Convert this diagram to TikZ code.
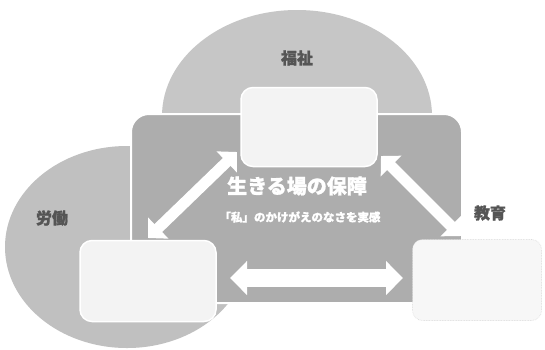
\documentclass[tikz,border=0pt]{standalone}
\usepackage{fontspec}
\newfontfamily\jp{Noto Sans CJK JP}[BoldFeatures={FakeBold=1.2}]
\usetikzlibrary{arrows.meta}
\definecolor{domegrey}{HTML}{C6C6C6}
\definecolor{leftgrey}{HTML}{C0C0C0}
\definecolor{midgrey}{HTML}{ADADAD}
\definecolor{boxfill}{HTML}{F3F3F3}
\definecolor{labelgrey}{HTML}{555555}
\tikzset{
  field/.style={fill=#1, draw=none},
  panel/.style={fill=midgrey, draw=white, line width=2pt, rounded corners=18pt},
  infobox/.style={fill=boxfill, draw=white, line width=1.5pt, rounded corners=12pt},
  areabox/.style={fill=white!97!black, draw=black!15, line width=0.6pt, densely dotted, rounded corners=10pt},
  arealabel/.style={font=\jp\bfseries\fontsize{16}{16}\selectfont, text=labelgrey, inner sep=0pt},
  biglabel/.style={font=\jp\bfseries\fontsize{20}{20}\selectfont, text=white, inner sep=0pt},
  smalllabel/.style={font=\jp\bfseries\fontsize{11.5}{11.5}\selectfont, text=white, inner sep=0pt},
  fatarrow/.style={draw=white, line width=#1, {Triangle[width=2.6*#1,length=1.3*#1]}-{Triangle[width=2.6*#1,length=1.3*#1]}, shorten <=0pt, shorten >=0pt}
}
\begin{document}
\begin{tikzpicture}[x=1pt,y=-1pt]
\useasboundingbox (0,0) rectangle (545,349);
\fill[white] (0,0) rectangle (545,349);
% top dome (welfare)
\fill[field=domegrey] (297,116) ellipse [x radius=135, y radius=106];
% left ellipse (labour)
\fill[field=leftgrey] (127,247) ellipse [x radius=122, y radius=101];
% central panel
\draw[panel] (131,114) rectangle (462,303);
% boxes
\node[infobox, minimum width=136pt, minimum height=79pt] (top) at (309,127) {};
\node[infobox, minimum width=136pt, minimum height=81pt] (left) at (148,281) {};
\node[areabox, minimum width=129pt, minimum height=81pt] (right) at (477,280) {};
% arrow end points
\coordinate (tl) at (237,152);
\coordinate (bl) at (148,238);
\coordinate (tr) at (381,156);
\coordinate (br) at (461,236);
\coordinate (hl) at (230,278);
\coordinate (hr) at (403,278);
\draw[fatarrow=11pt] (tl) -- (bl);
\draw[fatarrow=11pt] (tr) -- (br);
\draw[fatarrow=18pt, {Triangle[width=33pt,length=17pt]}-{Triangle[width=33pt,length=17pt]}] (hl) -- (hr);
% labels
\node[arealabel] (welfare) at (297,58) {福祉};
\node[arealabel] (labour) at (52,218) {労働};
\node[arealabel] (education) at (490,213) {教育};
\node[biglabel] (life) at (297,186) {生きる場の保障};
\node[smalllabel] (self) at (300,217) {「私」のかけがえのなさを実感};
\end{tikzpicture}
\end{document}
